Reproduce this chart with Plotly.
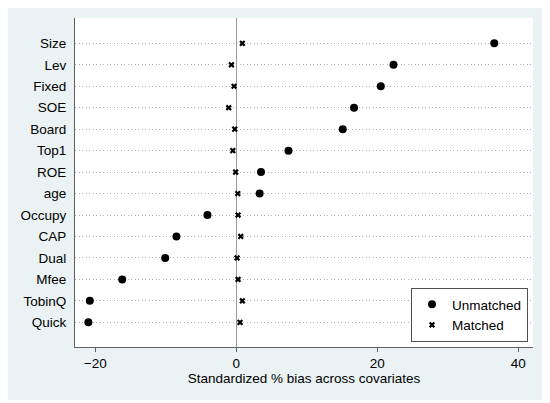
import plotly.graph_objects as go

covariates = ["Size", "Lev", "Fixed", "SOE", "Board", "Top1", "ROE", "age",
              "Occupy", "CAP", "Dual", "Mfee", "TobinQ", "Quick"]
unmatched = [36.6, 22.3, 20.5, 16.7, 15.1, 7.4, 3.5, 3.3,
             -4.1, -8.5, -10.1, -16.2, -20.8, -21.0]
matched = [0.85, -0.7, -0.33, -1.08, -0.23, -0.5, -0.1, 0.2,
           0.24, 0.62, 0.1, 0.24, 0.85, 0.52]
x_ticks = [-20, 0, 20, 40]
x_title = "Standardized % bias across covariates"

# page body has an 8px margin, so the figure is drawn at (8, 8)
OFF = 8
W, H = 550 - OFF, 403 - OFF
ml, mr, mt, mb = 75 - OFF, 17, 18 - OFF, 56
pw, ph = W - ml - mr, H - mt - mb

def px2x(p):
    return (p - OFF - ml) / pw

def px2y(p):
    return (H - mb - (p - OFF)) / ph

FONT = "Liberation Sans, Arial, sans-serif"
BLUE = "#EAF2F3"
FS = 13.5

fig = go.Figure()
fig.add_trace(go.Scatter(
    x=unmatched, y=covariates, mode="markers", name="Unmatched",
    marker=dict(symbol="circle", size=8, color="black"),
))
fig.add_trace(go.Scatter(
    x=matched, y=covariates, mode="markers", name="Matched",
    marker=dict(symbol="x", size=5.5, color="black", line=dict(width=0)),
))

# white outer frame around blue background (window pixel coords)
edges = [(547, 0, 560, 410), (0, 400, 560, 410)]
for x0, y0, x1, y1 in edges:
    fig.add_shape(type="rect", xref="paper", yref="paper",
                  x0=px2x(x0), x1=px2x(x1), y0=px2y(y1), y1=px2y(y0),
                  fillcolor="white", line=dict(width=0), layer="above")

fig.update_layout(
    width=W, height=H,
    margin=dict(l=ml, r=mr, t=mt, b=mb, pad=0),
    paper_bgcolor=BLUE, plot_bgcolor="white",
    font=dict(family=FONT, size=FS, color="black"),
    showlegend=True,
    legend=dict(
        x=px2x(528), y=px2y(342), xanchor="right", yanchor="bottom",
        bgcolor="white", bordercolor="#505050", borderwidth=1,
        font=dict(size=FS), itemwidth=30, tracegroupgap=0,
    ),
    xaxis=dict(
        range=[-22.9, 42.1], tickvals=x_ticks, showgrid=False,
        zeroline=True, zerolinecolor="#999999", zerolinewidth=1,
        showline=True, linecolor="#606060", linewidth=1,
        ticks="outside", ticklen=4, tickcolor="#606060",
        title=dict(text=x_title, standoff=2, font=dict(size=FS)),
    ),
    yaxis=dict(
        type="category", categoryorder="array",
        categoryarray=covariates[::-1],
        range=[-1.15, 14.18],
        showgrid=True, gridcolor="#b0b0b0", griddash="1px,2.5px", gridwidth=1,
        showline=True, linecolor="#606060", linewidth=1,
        ticks="", ticklabelstandoff=5, zeroline=False,
    ),
)

fig.write_html("out.html")
